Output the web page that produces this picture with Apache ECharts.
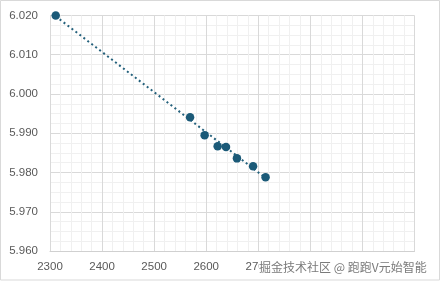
<!DOCTYPE html>
<html><head><meta charset="utf-8">
<script src="https://cdn.jsdelivr.net/npm/echarts@6/dist/echarts.min.js"></script>
<style>html,body{margin:0;padding:0;background:#fff}#c{width:442px;height:282px}</style>
</head><body><div id="c"></div>
<script>
const xValues = [2311, 2569, 2597, 2622, 2638, 2659, 2690, 2714];
const yValues = [6.0200, 5.9941, 5.9895, 5.9867, 5.9865, 5.9836, 5.9816, 5.9788];
const trendX = [2311, 2714];
const trendY = [6.0198, 5.9786];
const watermark = '掘金技术社区 @ 跑跑V元始智能';

const points = xValues.map((x, i) => [x, yValues[i]]);
const trend = trendX.map((x, i) => [x, trendY[i]]);
const font = '"Liberation Sans", Arial, sans-serif';

const chart = echarts.init(document.getElementById('c'));
chart.setOption({
  animation: false,
  backgroundColor: '#fff',
  grid: { left: 50, right: 27.5, top: 15.5, bottom: 31, containLabel: false },
  xAxis: {
    type: 'value', min: 2300, max: 3000, interval: 100,
    axisLine: { show: true, lineStyle: { color: '#d0d0d0', width: 1 } },
    axisTick: { show: false },
    axisLabel: { color: '#595959', fontSize: 11.5, fontFamily: font, margin: 10,
      formatter: v => String(v) },
    splitLine: { show: true, lineStyle: { color: '#d9d9d9', width: 1 } },
    minorTick: { show: false, splitNumber: 5 },
    minorSplitLine: { show: true, lineStyle: { color: '#f0f0f0', width: 1 } }
  },
  yAxis: {
    type: 'value', min: 5.96, max: 6.02, interval: 0.01,
    axisLine: { show: true, lineStyle: { color: '#d9d9d9', width: 1 } },
    axisTick: { show: false },
    axisLabel: { color: '#595959', fontSize: 11.5, fontFamily: font, margin: 12,
      formatter: v => v.toFixed(3) },
    splitLine: { show: true, lineStyle: { color: '#d9d9d9', width: 1 } },
    minorTick: { show: false, splitNumber: 4 },
    minorSplitLine: { show: true, lineStyle: { color: '#f0f0f0', width: 1 } }
  },
  series: [
    {
      type: 'line', data: trend, symbol: 'none', silent: true,
      lineStyle: { color: '#24617c', width: 2, type: [2, 3] }, z: 2
    },
    {
      type: 'scatter', data: points, symbolSize: 8.5,
      itemStyle: { color: '#1b5a78', opacity: 1 }, z: 3
    }
  ],
  graphic: [
    { type: 'rect', shape: { x: 0.5, y: 0.5, width: 439, height: 279.5 },
      style: { fill: 'none', stroke: '#d9d9d9', lineWidth: 1 }, z: 100 },
    { type: 'rect', shape: { x: 259, y: 259, width: 177, height: 17 },
      style: { fill: '#ffffff' }, z: 101 },
    { type: 'text', x: 259, y: 267, z: 102,
      style: { text: watermark, fill: '#7a7a7a', font: '12px "Noto Sans CJK SC", sans-serif',
        textVerticalAlign: 'middle', verticalAlign: 'middle' } }
  ]
});
</script></body></html>
